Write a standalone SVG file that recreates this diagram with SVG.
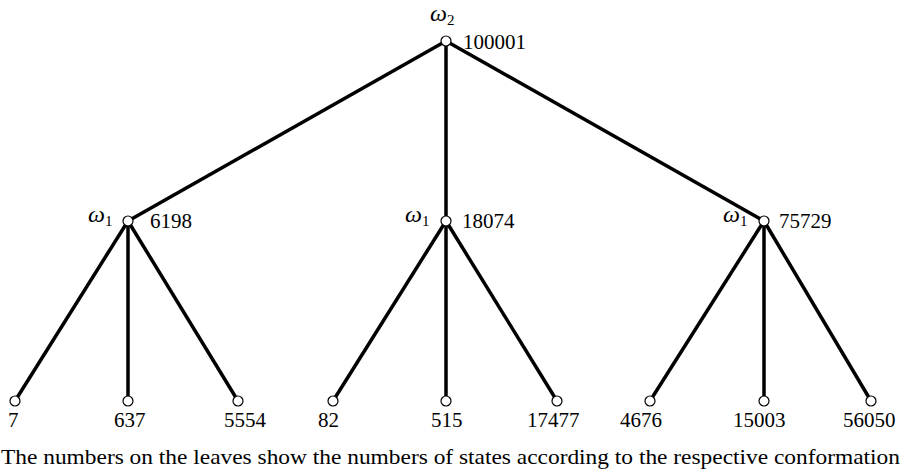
<svg xmlns="http://www.w3.org/2000/svg" width="902" height="472" viewBox="0 0 902 472">
<style>
.e{stroke:#000;stroke-width:3.5;fill:none}
.n{fill:#fff;stroke:#000;stroke-width:1.2}
.t{font-family:"Liberation Serif","Times New Roman",serif;font-size:21px;fill:#000}
.w{font-family:"Liberation Serif","Times New Roman",serif;font-size:24px;font-style:italic;fill:#000}
.s{font-size:15px;font-style:normal}
.c{font-family:"Liberation Serif","Times New Roman",serif;font-size:22px;fill:#000}
</style>
<rect width="902" height="472" fill="#fff"/>
<g id="connectors">
<line class="e" x1="446" y1="41" x2="128" y2="221"/>
<line class="e" x1="446" y1="41" x2="446" y2="221"/>
<line class="e" x1="446" y1="41" x2="764" y2="221"/>
<line class="e" x1="128" y1="221" x2="15" y2="401"/>
<line class="e" x1="128" y1="221" x2="128" y2="401"/>
<line class="e" x1="128" y1="221" x2="238" y2="401"/>
<line class="e" x1="446" y1="221" x2="333" y2="401"/>
<line class="e" x1="446" y1="221" x2="446" y2="401"/>
<line class="e" x1="446" y1="221" x2="557" y2="401"/>
<line class="e" x1="764" y1="221" x2="650" y2="401"/>
<line class="e" x1="764" y1="221" x2="764" y2="401"/>
<line class="e" x1="764" y1="221" x2="871" y2="401"/>
</g>
<g id="root">
<circle class="n" cx="446" cy="41" r="5"/>
<text class="w" x="430" y="21">ω<tspan class="s" dy="4">2</tspan></text>
<text class="t" x="463" y="49">100001</text>
</g>
<g id="mid1">
<circle class="n" cx="128" cy="221" r="5"/>
<text class="w" x="88" y="222">ω<tspan class="s" dy="4">1</tspan></text>
<text class="t" x="150" y="228">6198</text>
</g>
<g id="mid2">
<circle class="n" cx="446" cy="221" r="5"/>
<text class="w" x="405" y="222">ω<tspan class="s" dy="4">1</tspan></text>
<text class="t" x="462" y="228">18074</text>
</g>
<g id="mid3">
<circle class="n" cx="764" cy="221" r="5"/>
<text class="w" x="723" y="222">ω<tspan class="s" dy="4">1</tspan></text>
<text class="t" x="779" y="228">75729</text>
</g>
<g id="leaf1"><circle class="n" cx="15" cy="401" r="5"/><text class="t" x="8" y="427">7</text></g>
<g id="leaf2"><circle class="n" cx="128" cy="401" r="5"/><text class="t" x="114" y="427">637</text></g>
<g id="leaf3"><circle class="n" cx="238" cy="401" r="5"/><text class="t" x="224" y="427">5554</text></g>
<g id="leaf4"><circle class="n" cx="333" cy="401" r="5"/><text class="t" x="318" y="427">82</text></g>
<g id="leaf5"><circle class="n" cx="446" cy="401" r="5"/><text class="t" x="431" y="427">515</text></g>
<g id="leaf6"><circle class="n" cx="557" cy="401" r="5"/><text class="t" x="527" y="427">17477</text></g>
<g id="leaf7"><circle class="n" cx="650" cy="401" r="5"/><text class="t" x="620" y="427">4676</text></g>
<g id="leaf8"><circle class="n" cx="764" cy="401" r="5"/><text class="t" x="733" y="427">15003</text></g>
<g id="leaf9"><circle class="n" cx="871" cy="401" r="5"/><text class="t" x="843" y="427">56050</text></g>
<text class="c" x="1" y="464" textLength="899" lengthAdjust="spacingAndGlyphs">The numbers on the leaves show the numbers of states according to the respective conformation</text>
</svg>
